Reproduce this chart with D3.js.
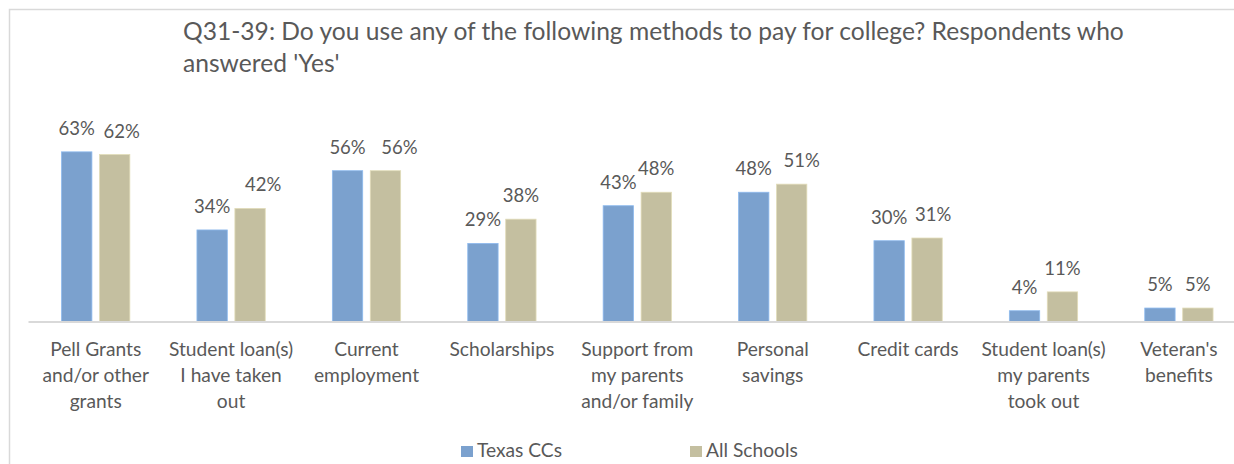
<!DOCTYPE html>
<html>
<head>
<meta charset="utf-8">
<script src="https://cdn.jsdelivr.net/npm/d3@7"></script>
<style>
  html, body { margin: 0; padding: 0; background: #fff; }
  svg { display: block; font-family: Lato, "Open Sans", sans-serif; }
</style>
</head>
<body>
<svg id="chart" width="1234" height="464"></svg>
<script>
// Survey question and answers
const titleLines = [
  "Q31-39: Do you use any of the following methods to pay for college? Respondents who",
  "answered 'Yes'"
];
const categories = [
  ["Pell Grants", "and/or other", "grants"],
  ["Student loan(s)", "I have taken", "out"],
  ["Current", "employment"],
  ["Scholarships"],
  ["Support from", "my parents", "and/or family"],
  ["Personal", "savings"],
  ["Credit cards"],
  ["Student loan(s)", "my parents", "took out"],
  ["Veteran's", "benefits"]
];
const seriesNames = ["Texas CCs", "All Schools"];
const texasCCs = [63, 34, 56, 29, 43, 48, 30, 4, 5];
const allSchools = [62, 42, 56, 38, 48, 51, 31, 11, 5];
const seriesColors = ["#7BA1CE", "#C4BFA0"];

// horizontal nudge (px) for "All Schools" value labels sitting close to their neighbour
const allSchoolsLabelNudge = [7, 13, 14, 0, 0, 10, 6, 0, 0];

const svg = d3.select("#chart");
const textColor = "#595959";

// outer chart frame (right side runs past the canvas)
svg.append("rect")
  .attr("x", 9.5).attr("y", 9.5)
  .attr("width", 1260).attr("height", 470)
  .attr("fill", "none").attr("stroke", "#d9d9d9").attr("stroke-width", 1.5);

// title
const title = svg.append("text")
  .attr("x", 183).attr("y", 40)
  .attr("fill", textColor).attr("font-size", 24.6);
titleLines.forEach((t, i) => {
  title.append("tspan").attr("x", 183).attr("dy", i === 0 ? 0 : 32).text(t);
});

// scales
const keys = categories.map((c, i) => i);
const x0 = d3.scaleBand().domain(keys).range([28, 28 + 9 * 135.4]).paddingInner(0).paddingOuter(0);
const groupW = 68.3;
const x1 = d3.scaleBand().domain(seriesNames).range([0, groupW]).paddingInner(0.2);
const y = d3.scaleLinear().domain([0, 70]).range([321.5, 133]);

const rows = keys.map(i => ({ i, vals: [texasCCs[i], allSchools[i]] }));

const groups = svg.append("g").selectAll("g")
  .data(rows).join("g")
  .attr("transform", d => `translate(${x0(d.i) + x0.bandwidth() / 2 - groupW / 2},0)`);

groups.selectAll("rect")
  .data(d => d.vals.map((v, k) => ({ v, k })))
  .join("rect")
  .attr("x", d => x1(seriesNames[d.k]))
  .attr("y", d => y(d.v))
  .attr("width", x1.bandwidth())
  .attr("height", d => y(0) - y(d.v))
  .attr("fill", d => seriesColors[d.k])
  .attr("stroke", d => d3.color(seriesColors[d.k]).brighter(0.4))
  .attr("stroke-width", 0.8);

groups.selectAll("text.val")
  .data(d => d.vals.map((v, k) => ({ v, k, i: d.i })))
  .join("text")
  .attr("class", "val")
  .attr("x", d => x1(seriesNames[d.k]) + x1.bandwidth() / 2 + (d.k === 1 ? allSchoolsLabelNudge[d.i] : 0))
  .attr("y", d => y(d.v) - 17)
  .attr("text-anchor", "middle")
  .attr("fill", textColor)
  .attr("font-size", 18.5)
  .text(d => d.v + "%");

// category axis
const axis = svg.append("g").attr("transform", "translate(0,321.5)")
  .call(d3.axisBottom(x0).tickSize(0).tickFormat(() => ""));
axis.select(".domain").attr("stroke", "#d9d9d9").attr("stroke-width", 2);

const catLabels = svg.append("g").selectAll("text")
  .data(keys).join("text")
  .attr("x", i => x0(i) + x0.bandwidth() / 2)
  .attr("y", 356)
  .attr("text-anchor", "middle")
  .attr("fill", textColor)
  .attr("font-size", 19.2);
catLabels.each(function (i) {
  d3.select(this).selectAll("tspan")
    .data(categories[i]).join("tspan")
    .attr("x", x0(i) + x0.bandwidth() / 2)
    .attr("dy", (d, j) => j === 0 ? 0 : 26)
    .text(d => d);
});

// legend
const legendX = [461, 690];
const legend = svg.append("g").selectAll("g")
  .data(seriesNames).join("g")
  .attr("transform", (d, k) => `translate(${legendX[k]},446)`);
legend.append("rect")
  .attr("width", 12).attr("height", 11)
  .attr("fill", (d, k) => seriesColors[k]);
legend.append("text")
  .attr("x", 16).attr("y", 11)
  .attr("fill", textColor).attr("font-size", 19.2)
  .text(d => d);
</script>
</body>
</html>
